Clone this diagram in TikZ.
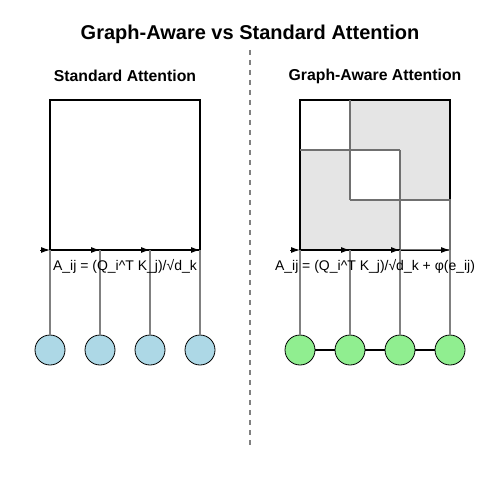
\documentclass[tikz,border=0pt]{standalone}
\usepackage{fontspec}
\setmainfont{Liberation Sans}
\usetikzlibrary{arrows.meta}
\definecolor{lblue}{HTML}{ADD8E6}
\definecolor{lgreen}{HTML}{90EE90}
\definecolor{cellgray}{HTML}{E5E5E5}
\definecolor{midgray}{HTML}{808080}
\definecolor{linegray}{HTML}{707070}
\tikzset{
  titletext/.style={font=\fontsize{20}{22}\selectfont\bfseries},
  subtitle/.style={font=\fontsize{15.8}{18}\selectfont\bfseries},
  formula/.style={font=\fontsize{14}{16}\selectfont},
  token/.style={circle, draw=black, line width=0.8pt, minimum size=30pt, inner sep=0pt},
  stdtoken/.style={token, fill=lblue},
  gtoken/.style={token, fill=lgreen},
  matbox/.style={draw=black, line width=2pt},
  cell/.style={draw=linegray, line width=1.2pt},
  flow/.style={black, line width=1pt, -{Latex[length=9pt,width=6pt]}},
  feed/.style={midgray, line width=1.5pt},
  gedge/.style={black, line width=2pt},
}
\begin{document}
\begin{tikzpicture}[x=1pt,y=-1pt]
\useasboundingbox (0,0) rectangle (500,500);
\fill[white] (0,0) rectangle (500,500);

\node[titletext] (title) at (250,34) {Graph-Aware vs Standard Attention};
\node[subtitle] (stdtitle) at (125,76) {Standard Attention};
\node[subtitle] (gtitle) at (375,76) {Graph-Aware Attention};

% divider
\coordinate (dtop) at (250,50);
\coordinate (dbot) at (250,445);
\draw[midgray, line width=2pt, dash pattern=on 5pt off 5pt] (dtop) -- (dbot);

% ---------- standard panel ----------
\draw[matbox] (50,100) rectangle (200,250);
\foreach \i/\x in {0/40,1/50,2/100,3/150,4/200}{
  \coordinate (sa\i) at (\x,250);
}
\draw[flow] (sa0) -- (sa1);
\draw[flow] (sa1) -- (sa2);
\draw[flow] (sa2) -- (sa3);
\draw[flow] (sa3) -- (sa4);

\foreach \i/\x in {1/50,2/100,3/150,4/200}{
  \node[stdtoken] (l\i) at (\x,350) {};
  \draw[feed] (sa\i) -- (l\i);
}
\node[formula] (sform) at (125,266) {A\_ij = (Q\_i\textasciicircum T K\_j)/√d\_k};

% ---------- graph-aware panel ----------
\fill[cellgray] (300,100) rectangle (450,250);
\fill[white] (300,100) rectangle (350,150);
\fill[white] (350,150) rectangle (400,200);
\draw[matbox] (300,100) rectangle (450,250);
\draw[cell] (350,100) -- (350,200);
\draw[cell] (300,150) -- (400,150);
\draw[cell] (400,150) -- (400,250);
\draw[cell] (350,200) -- (450,200);
\fill[white] (400,200) rectangle (451,251);
\draw[cell] (400,200) rectangle (450,250);

\foreach \i/\x in {0/290,1/300,2/350,3/400,4/450}{
  \coordinate (ga\i) at (\x,250);
}
\draw[flow] (ga0) -- (ga1);
\draw[flow] (ga1) -- (ga2);
\draw[flow] (ga2) -- (ga3);
\draw[flow] (ga3) -- (ga4);
\draw[black, line width=2pt] (300,250) -- (400,250);

\foreach \i/\x in {1/300,2/350,3/400,4/450}{
  \node[gtoken] (r\i) at (\x,350) {};
  \draw[feed] (ga\i) -- (r\i);
}
\draw[gedge] (r1) -- (r2);
\draw[gedge] (r2) -- (r3);
\draw[gedge] (r3) -- (r4);
\node[formula] (gform) at (375,266) {A\_ij = (Q\_i\textasciicircum T K\_j)/√d\_k + φ(e\_ij)};
\end{tikzpicture}
\end{document}
